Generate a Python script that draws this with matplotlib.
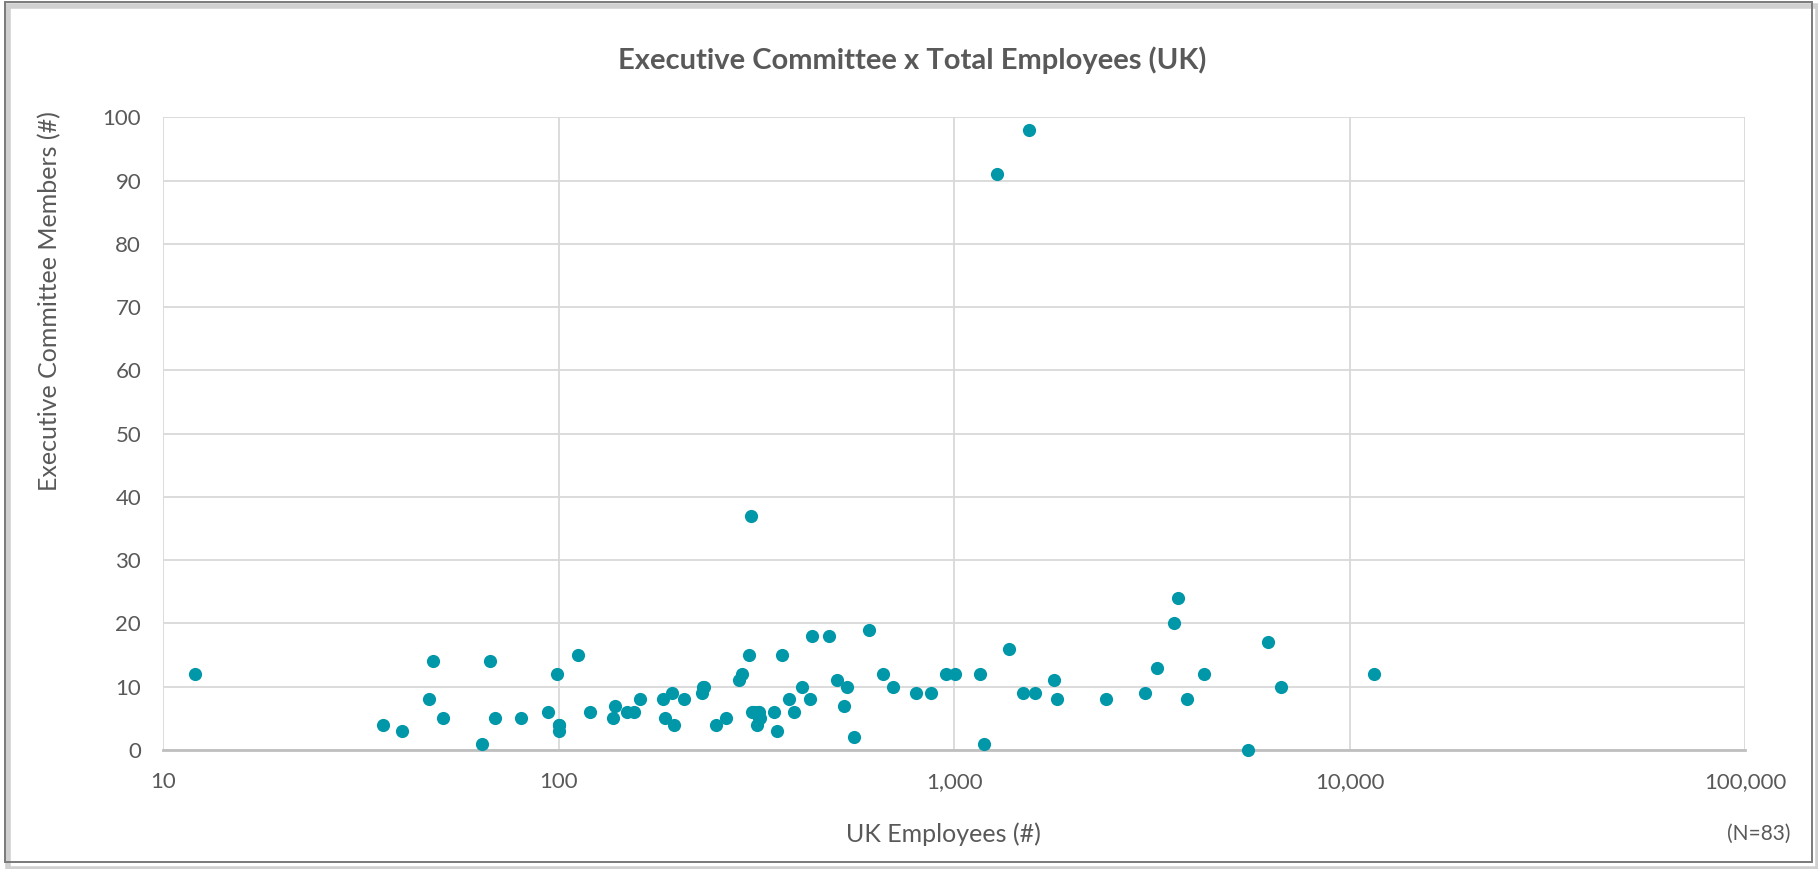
import matplotlib
matplotlib.use("Agg")
import matplotlib.pyplot as plt
from matplotlib.patches import Rectangle
from matplotlib.ticker import FixedLocator, FuncFormatter, MultipleLocator

# UK employees vs executive committee size, one point per firm
uk_employees = [
    12, 36, 40, 47, 48, 51, 64, 67, 69, 80, 94, 99, 100, 100, 100,
    112, 120, 137, 139, 149, 155, 160, 183, 185, 193, 195, 207,
    230, 231, 233, 249, 265, 285, 290, 302, 306, 307, 312, 318, 320, 320, 317,
    323, 350, 356, 367, 382, 393, 413, 431, 436, 482, 505, 527, 535, 556,
    608, 660, 700, 801, 871, 953, 1005, 1162, 1191, 1285, 1377, 1489, 1542,
    1603, 1791, 1813, 2415, 3030, 3249, 3597, 3676, 3883, 4277, 5517, 6200,
    6693, 11482,
]
exec_members = [
    12, 4, 3, 8, 14, 5, 1, 14, 5, 5, 6, 12, 4, 3, 4,
    15, 6, 5, 7, 6, 6, 8, 8, 5, 9, 4, 8,
    9, 10, 10, 4, 5, 11, 12, 15, 37, 6, 6, 6, 6, 5, 4,
    5, 6, 3, 15, 8, 6, 10, 8, 18, 18, 11, 7, 10, 2,
    19, 12, 10, 9, 9, 12, 12, 12, 1, 91, 16, 9, 98,
    9, 11, 8, 8, 9, 13, 20, 24, 8, 12, 0, 17,
    10, 12,
]

x_ticks = [10, 100, 1000, 10000, 100000]
grey_text = "#595959"
teal = "#0097a9"

plt.rcParams["font.family"] = ["Lato", "DejaVu Sans"]

fig = plt.figure(figsize=(18.18, 8.69), dpi=100)
ax = fig.add_axes([0.0899, 0.137, 0.8701, 0.728])

ax.scatter(uk_employees, exec_members, s=90, color=teal, linewidths=0, zorder=3, clip_on=False)

ax.set_xscale("log")
ax.set_xlim(10, 100000)
ax.set_ylim(0, 100)
ax.xaxis.set_major_locator(FixedLocator(x_ticks))
ax.xaxis.set_minor_locator(FixedLocator([]))
ax.xaxis.set_major_formatter(FuncFormatter(lambda v, p: f"{int(round(v)):,}"))
ax.yaxis.set_major_locator(MultipleLocator(10))

ax.grid(True, color="#d9d9d9", linewidth=1.3, zorder=0)
ax.set_axisbelow(True)
for side in ["top", "right", "left"]:
    ax.spines[side].set_visible(False)
ax.spines["bottom"].set_color("#bfbfbf")
ax.spines["bottom"].set_linewidth(2)
ax.tick_params(axis="both", length=0, labelsize=16, labelcolor=grey_text)
ax.tick_params(axis="y", pad=16)
ax.tick_params(axis="x", pad=16)

fig.text(0.502, 0.931, "Executive Committee x Total Employees (UK)",
         ha="center", va="center", fontsize=21, fontweight="bold", color=grey_text)
fig.text(0.0275, 0.653, "Executive Committee Members (#)", rotation=90,
         ha="center", va="center", fontsize=18, color=grey_text)
fig.text(0.519, 0.04, "UK Employees (#)", ha="center", va="center",
         fontsize=18, color=grey_text)
fig.text(0.985, 0.04, "(N=83)", ha="right", va="center",
         fontsize=15, color=grey_text)

# chart frame with a soft shadow on the lower right
fig.patches.append(Rectangle((0.0045, 0.0), 0.9955, 0.9935, transform=fig.transFigure,
                             facecolor="none", edgecolor="#d0d0d0", linewidth=4, zorder=0))
fig.patches.append(Rectangle((0.0025, 0.0075), 0.994, 0.99, transform=fig.transFigure,
                             facecolor="none", edgecolor="#7a7a7a", linewidth=1.4, zorder=1))

fig.savefig("out.png", dpi=100)
